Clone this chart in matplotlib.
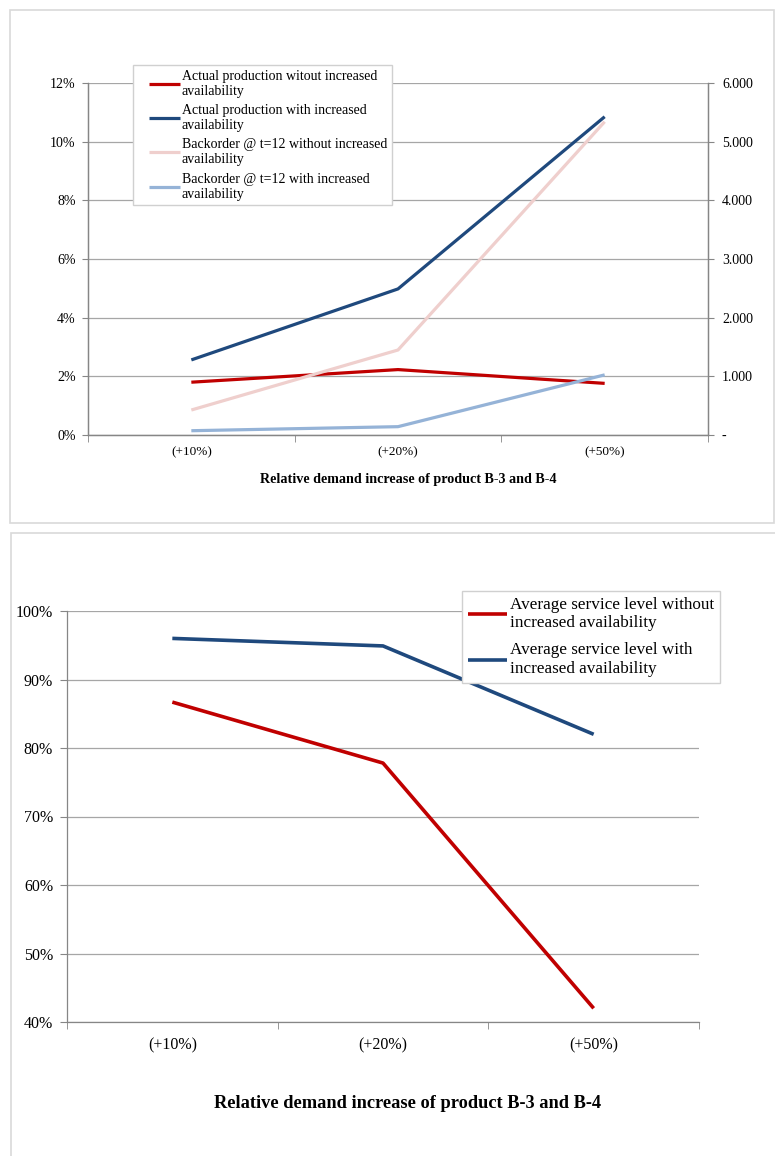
import matplotlib
matplotlib.use("Agg")
import numpy as np
import matplotlib.pyplot as plt
from matplotlib.patches import Rectangle
from matplotlib.ticker import FixedLocator, FuncFormatter
from matplotlib.legend_handler import HandlerLine2D

plt.rcParams['font.family'] = ['Liberation Serif', 'DejaVu Serif']

# demand scenarios
categories = ['(+10%)', '(+20%)', '(+50%)']

# upper chart: production share (left axis, %) and backorders (right axis, units)
prod_without = [1.80, 2.23, 1.76]
prod_with = [2.56, 4.98, 10.85]
backorder_without = [426, 1449, 5340]
backorder_with = [73, 142, 1025]

# lower chart: average service level (%)
service_without = [86.7, 77.8, 42.0]
service_with = [96.0, 94.9, 82.0]

RED = '#C00000'
DARKBLUE = '#1F497D'
PINK = '#EFCFCD'
LIGHTBLUE = '#95B3D7'
GRID = '#a6a6a6'
SPINE = '#868686'

W, H = 775, 1156
fig = plt.figure(figsize=(W / 100, H / 100), dpi=100)


class OffsetLine(HandlerLine2D):
    """Legend line that only fills the right part of the handle box."""

    def __init__(self, start=0.0, **kw):
        super().__init__(**kw)
        self.start = start

    def create_artists(self, legend, orig_handle, xdescent, ydescent,
                       width, height, fontsize, trans):
        arts = super().create_artists(legend, orig_handle, xdescent, ydescent,
                                      width, height, fontsize, trans)
        x0 = -xdescent + self.start * width
        x1 = -xdescent + width
        for a in arts:
            n = len(a.get_xdata())
            a.set_xdata(np.linspace(x0, x1, n) if n > 1 else [x1])
        return arts


def box(x0, y0, x1, y1):
    # pixel box (top-left origin) -> figure fraction
    return [x0 / W, 1 - y1 / H, (x1 - x0) / W, (y1 - y0) / H]


def frame(x0, y0, x1, y1):
    fig.patches.append(Rectangle((x0 / W, 1 - y1 / H), (x1 - x0) / W, (y1 - y0) / H,
                                 transform=fig.transFigure, fill=False,
                                 edgecolor='#d9d9d9', linewidth=1.2))


def style_x(ax, size):
    x = range(len(categories))
    ax.set_xlim(-0.5, len(categories) - 0.5)
    ax.set_xticks(list(x))
    ax.set_xticklabels(categories, fontsize=size)
    ax.xaxis.set_minor_locator(FixedLocator([i - 0.5 for i in range(len(categories) + 1)]))
    ax.tick_params(axis='x', which='major', length=0, pad=8)
    ax.tick_params(axis='x', which='minor', length=5, color=SPINE, direction='out')


frame(10, 10, 774, 523)
frame(11, 533, 780, 1170)

# ---------- upper chart ----------
ax1 = fig.add_axes(box(88, 83, 708, 435))
x = list(range(len(categories)))
l1, = ax1.plot(x, prod_without, color=RED, lw=2.3, solid_capstyle='butt')
l2, = ax1.plot(x, prod_with, color=DARKBLUE, lw=2.3, solid_capstyle='butt')
ax1.set_ylim(0, 12)
ax1.set_yticks(range(0, 13, 2))
ax1.yaxis.set_major_formatter(FuncFormatter(lambda v, p: f'{v:.0f}%'))
ax1.tick_params(axis='y', length=4, color=SPINE, labelsize=10, pad=5)
style_x(ax1, 9.5)
ax1.grid(axis='y', color=GRID, lw=0.9)
ax1.set_axisbelow(True)

ax2 = ax1.twinx()
l3, = ax2.plot(x, backorder_without, color=PINK, lw=2.3, solid_capstyle='butt')
l4, = ax2.plot(x, backorder_with, color=LIGHTBLUE, lw=2.3, solid_capstyle='butt')
ax2.set_ylim(0, 6000)
ax2.set_yticks(range(0, 6001, 1000))
ax2.yaxis.set_major_formatter(FuncFormatter(
    lambda v, p: '-' if v == 0 else f'{v:,.0f}'.replace(',', '.')))
ax2.tick_params(axis='y', length=4, color=SPINE, labelsize=10, pad=6)

for a in (ax1, ax2):
    a.spines['top'].set_visible(False)
    for s in ('left', 'right', 'bottom'):
        a.spines[s].set_color(SPINE)
        a.spines[s].set_linewidth(0.9)

top_handler = OffsetLine(start=0.27)
fig.legend([l1, l2, l3, l4],
           ['Actual production witout increased\navailability',
            'Actual production with increased\navailability',
            'Backorder @ t=12 without increased\navailability',
            'Backorder @ t=12 with increased\navailability'],
           loc='upper left', bbox_to_anchor=(133 / W, 1 - 65 / H),
           handler_map={l1: top_handler, l2: top_handler,
                        l3: top_handler, l4: top_handler},
           fontsize=10, frameon=True, fancybox=False, edgecolor='#d0d0d0',
           framealpha=1, borderaxespad=0, handlelength=3.0, handletextpad=0.15,
           labelspacing=0.45, borderpad=0.35)

fig.text(408 / W, 1 - 479 / H, 'Relative demand increase of product B-3 and B-4',
         ha='center', va='center', fontsize=10.2, fontweight='bold')

# ---------- lower chart ----------
ax3 = fig.add_axes(box(67, 611, 699, 1022))
s1, = ax3.plot(x, service_without, color=RED, lw=2.6, solid_capstyle='butt')
s2, = ax3.plot(x, service_with, color=DARKBLUE, lw=2.6, solid_capstyle='butt')
ax3.set_ylim(40, 100)
ax3.set_yticks(range(40, 101, 10))
ax3.yaxis.set_major_formatter(FuncFormatter(lambda v, p: f'{v:.0f}%'))
ax3.tick_params(axis='y', length=5, color=SPINE, labelsize=11.5, pad=5)
style_x(ax3, 11.5)
ax3.tick_params(axis='x', which='major', pad=11)
ax3.grid(axis='y', color=GRID, lw=0.9)
ax3.set_axisbelow(True)
ax3.spines['top'].set_visible(False)
ax3.spines['right'].set_visible(False)
for s in ('left', 'bottom'):
    ax3.spines[s].set_color(SPINE)
    ax3.spines[s].set_linewidth(0.9)

fig.legend([s1, s2],
           ['Average service level without\nincreased availability',
            'Average service level with\nincreased availability'],
           loc='upper left', bbox_to_anchor=(462 / W, 1 - 591 / H),
           fontsize=12.3, frameon=True, fancybox=False, edgecolor='#d0d0d0',
           framealpha=1, borderaxespad=0, handlelength=2.3, handletextpad=0.15,
           labelspacing=0.65, borderpad=0.35)

fig.text(408 / W, 1 - 1104 / H, 'Relative demand increase of product B-3 and B-4',
         ha='center', va='center', fontsize=13.2, fontweight='bold')

fig.savefig('out.png', dpi=100)
